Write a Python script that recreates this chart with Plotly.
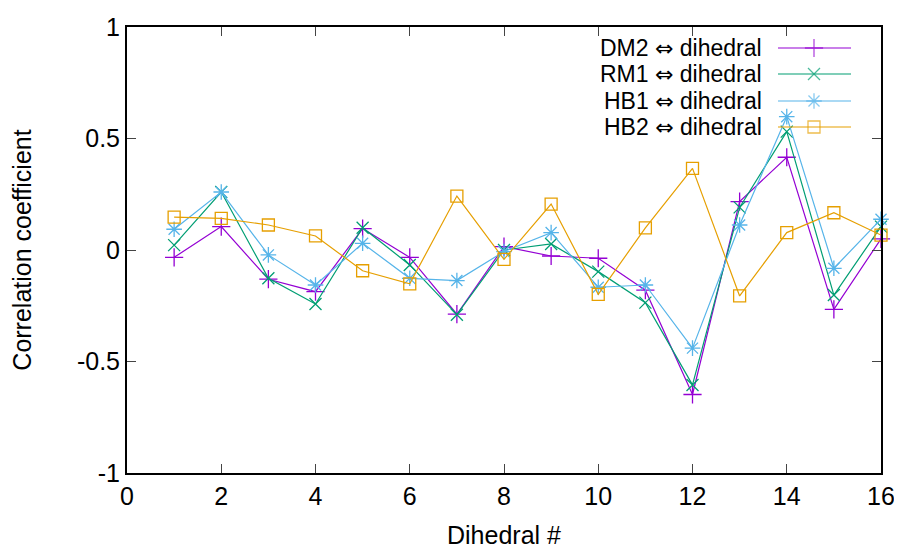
import plotly.graph_objects as go

dihedral = list(range(1, 17))
dm2 = [-0.033, 0.105, -0.131, -0.187, 0.096, -0.033, -0.288, 0.015, -0.027, -0.037, -0.18, -0.648, 0.217, 0.416, -0.266, 0.05]
rm1 = [0.022, 0.26, -0.127, -0.242, 0.10, -0.067, -0.29, 0.0, 0.027, -0.097, -0.236, -0.605, 0.191, 0.531, -0.202, 0.105]
hb1 = [0.093, 0.26, -0.022, -0.157, 0.03, -0.127, -0.137, -0.007, 0.078, -0.167, -0.157, -0.44, 0.112, 0.598, -0.082, 0.138]
hb2 = [0.147, 0.142, 0.112, 0.063, -0.093, -0.152, 0.242, -0.042, 0.206, -0.199, 0.099, 0.366, -0.206, 0.078, 0.167, 0.067]

labels = ["DM2", "RM1", "HB1", "HB2"]
series = [dm2, rm1, hb1, hb2]
colors = ["#9400d3", "#009e73", "#56b4e9", "#e69f00"]
symbols = ["cross-thin", "x-thin", "asterisk-open", "square-open"]
sizes = [13, 12, 13, 12]

xticks = [0, 2, 4, 6, 8, 10, 12, 14, 16]
yticks = [-1, -0.5, 0, 0.5, 1]
yticktext = ["-1", "-0.5", "0", "0.5", "1"]

# page body has an 8px margin; size the figure so the plot area lands where the reference has it
W, H = 894, 541
L, R, T, B = 119, 21, 19, 76
PW, PH = W - L - R, H - T - B
FONT = "Liberation Sans"
FS = 25
KEY_FS = 23

fig = go.Figure()
for lab, ys, c, s, sz in zip(labels, series, colors, symbols, sizes):
    fig.add_trace(go.Scatter(
        x=dihedral, y=ys, mode="lines+markers", name=lab + " ⇔ dihedral",
        line=dict(color=c, width=1.2),
        marker=dict(symbol=s, size=sz, color=c, line=dict(color=c, width=1.3)),
        cliponaxis=False, showlegend=False))

# gnuplot-style key (text left, sample right), placed in plot-area pixel units
key_rows = [21, 47, 74, 100]
key_text_right = 636
key_line = [651, 687, 724]
for i, (lab, c, s, sz) in enumerate(zip(labels, colors, symbols, sizes)):
    fig.add_trace(go.Scatter(
        x=key_line, y=[key_rows[i]] * 3, mode="lines+markers",
        xaxis="x2", yaxis="y2", showlegend=False, hoverinfo="skip",
        line=dict(color=c, width=1.2),
        marker=dict(symbol=s, size=[0, sz, 0], color=c, line=dict(color=c, width=1.3)),
        cliponaxis=False))
    fig.add_annotation(
        x=key_text_right, y=key_rows[i], xref="x2", yref="y2",
        text=lab + ' <span style="font-family:DejaVu Sans;font-size:22px">⇔</span> dihedral',
        showarrow=False, xanchor="right", yanchor="middle", valign="middle", borderpad=0,
        font=dict(size=KEY_FS, color="black", family=FONT))

axis_common = dict(showgrid=False, zeroline=False, showline=True, linecolor="black",
                   linewidth=2, mirror="allticks", ticks="inside", ticklen=9,
                   tickcolor="#444444", tickwidth=1, automargin=False,
                   tickfont=dict(size=FS, color="black", family=FONT))

fig.update_layout(
    width=W, height=H,
    margin=dict(l=L, r=R, t=T, b=B, autoexpand=False),
    plot_bgcolor="white", paper_bgcolor="white",
    font=dict(family=FONT, size=FS, color="black"),
    xaxis=dict(range=[0, 16], tickvals=xticks, ticktext=[str(v) for v in xticks],
               title=dict(text="Dihedral #", font=dict(size=FS), standoff=20),
               **axis_common),
    yaxis=dict(range=[-1, 1], tickvals=yticks, ticktext=yticktext,
               title=dict(text="Correlation coefficient", font=dict(size=FS), standoff=38),
               **axis_common),
    xaxis2=dict(range=[0, PW], overlaying="x", visible=False, fixedrange=True, anchor="y2"),
    yaxis2=dict(range=[PH, 0], overlaying="y", visible=False, fixedrange=True, anchor="x2"),
)

fig.write_html("out.html")
